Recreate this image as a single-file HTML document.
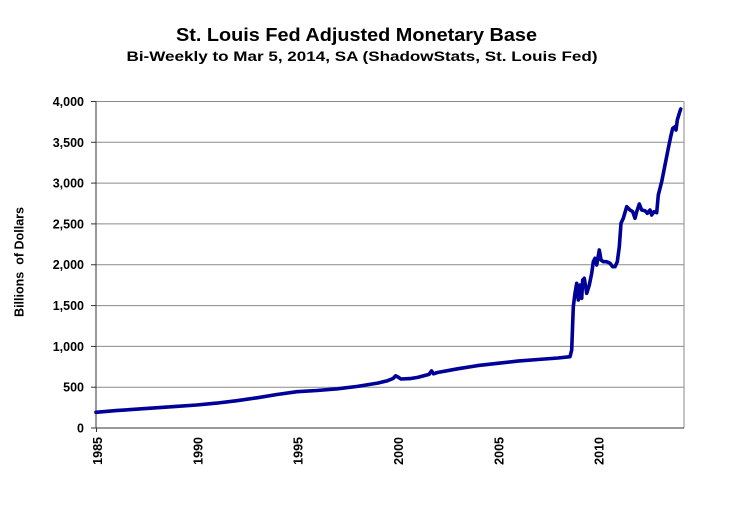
<!DOCTYPE html>
<html><head><meta charset="utf-8"><style>
html,body{margin:0;padding:0;background:#fff;}
svg{display:block;}
text{font-family:"Liberation Sans",Arial,sans-serif;font-weight:bold;fill:#000;}
</style></head><body>
<svg width="756" height="510" viewBox="0 0 756 510" xmlns="http://www.w3.org/2000/svg">
<rect width="756" height="510" fill="#fff"/>
<text x="356.5" y="41" font-size="18" text-anchor="middle" textLength="361" lengthAdjust="spacingAndGlyphs">St. Louis Fed Adjusted Monetary Base</text>
<text x="362" y="61" font-size="14" text-anchor="middle" textLength="471" lengthAdjust="spacingAndGlyphs">Bi-Weekly to Mar 5, 2014, SA (ShadowStats, St. Louis Fed)</text>
<text transform="translate(23.5,262) rotate(-90)" font-size="12.5" text-anchor="middle" textLength="110" lengthAdjust="spacingAndGlyphs" xml:space="preserve">Billions  of Dollars</text>
<g stroke="#8a8a8a" stroke-width="1">
<line x1="96" y1="101.5" x2="684" y2="101.5"/>
<line x1="96" y1="142.3" x2="684" y2="142.3"/>
<line x1="96" y1="183.1" x2="684" y2="183.1"/>
<line x1="96" y1="223.9" x2="684" y2="223.9"/>
<line x1="96" y1="264.75" x2="684" y2="264.75"/>
<line x1="96" y1="305.6" x2="684" y2="305.6"/>
<line x1="96" y1="346.4" x2="684" y2="346.4"/>
<line x1="96" y1="387.2" x2="684" y2="387.2"/>
<line x1="684" y1="101.5" x2="684" y2="428"/>
</g>
<g stroke="#333" stroke-width="1">
<line x1="96" y1="101.5" x2="96" y2="428"/>
<line x1="96" y1="428" x2="684" y2="428"/>
<line x1="91" y1="101.5" x2="96" y2="101.5"/>
<line x1="91" y1="142.3" x2="96" y2="142.3"/>
<line x1="91" y1="183.1" x2="96" y2="183.1"/>
<line x1="91" y1="223.9" x2="96" y2="223.9"/>
<line x1="91" y1="264.75" x2="96" y2="264.75"/>
<line x1="91" y1="305.6" x2="96" y2="305.6"/>
<line x1="91" y1="346.4" x2="96" y2="346.4"/>
<line x1="91" y1="387.2" x2="96" y2="387.2"/>
<line x1="91" y1="428" x2="96" y2="428"/>
<line x1="96.5" y1="428" x2="96.5" y2="432"/>
</g>
<g font-size="12.5" text-anchor="end">
<text x="84" y="106">4,000</text>
<text x="84" y="146.8">3,500</text>
<text x="84" y="187.6">3,000</text>
<text x="84" y="228.4">2,500</text>
<text x="84" y="269.2">2,000</text>
<text x="84" y="310.1">1,500</text>
<text x="84" y="350.9">1,000</text>
<text x="84" y="391.7">500</text>
<text x="84" y="432.5">0</text>
</g>
<g font-size="12.5" text-anchor="end">
<text transform="translate(102,437) rotate(-90)">1985</text>
<text transform="translate(202.4,437) rotate(-90)">1990</text>
<text transform="translate(302.7,437) rotate(-90)">1995</text>
<text transform="translate(403,437) rotate(-90)">2000</text>
<text transform="translate(503.4,437) rotate(-90)">2005</text>
<text transform="translate(603.7,437) rotate(-90)">2010</text>
</g>
<polyline fill="none" stroke="#000099" stroke-width="3.6" stroke-linejoin="round" stroke-linecap="round" points="
96,412.3 116,410.6 136,409.2 156,407.8 176,406.4 196.7,405 216.8,403.1 236.9,400.7 257,397.8 277,394.5 297,391.7 317,390.5 337.4,388.8 357.5,386.4 377.6,383.1 387.6,380.7 393,378.5 395.7,375.8 398,377 401,379 410,378.6 417.7,377.4 429,374.4 431.5,370.9 433.5,373.8 437.5,372.5 457.6,368.8 477.6,365.6 497.7,363.3 517.8,361.1 537.9,359.5 558,358 570,356.7 571.7,350 573.3,306.7 575,293.3 576.7,283.3 578.3,300 580,285 581.7,298.3 582.7,280 584.3,278.3 586.7,293.3 589.3,285 591.7,273.3 593.3,261.7 595,258.3 596.7,265 599.3,250 601,260 603.3,261.7 606.7,261.7 610,263.3 612.7,266.7 615,266.7 617.3,261.7 619.3,246.7 621,223.3 623.3,218.3 626.7,206.7 630,210 632.7,211.7 635,218.3 636.7,211.7 639.3,204 641.7,210 645,210.7 647.3,213.3 650,210 651.7,215 654,211.7 656.7,212.7 658.3,195 661.7,181.7 665,165 668.3,148.3 670.7,136.7 672.7,128.3 675,126.7 676,130 677.3,120 679.3,113.3 680.7,109"/>
</svg>
</body></html>
